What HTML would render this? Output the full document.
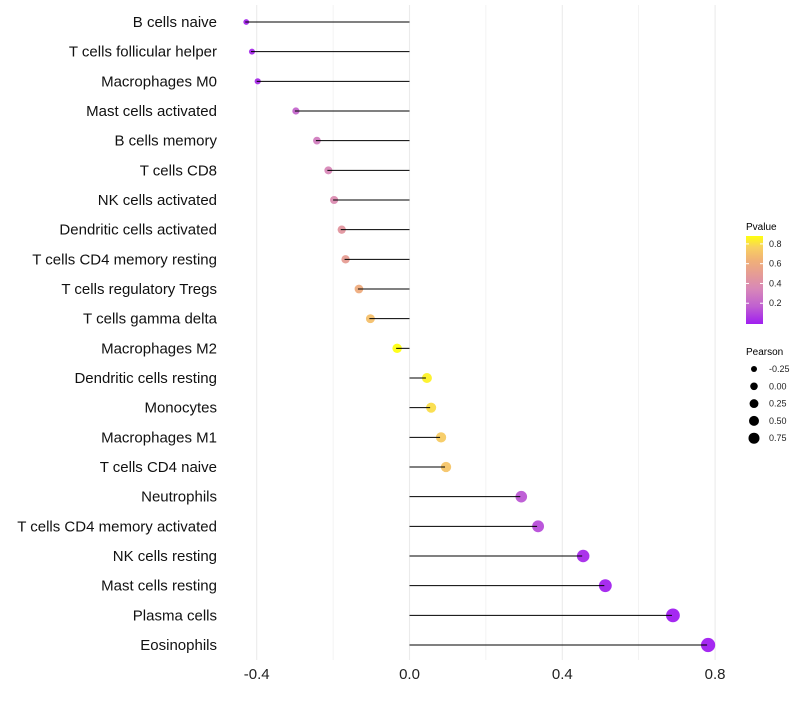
<!DOCTYPE html>
<html><head><meta charset="utf-8"><style>
body{margin:0;background:#fff;font-family:"Liberation Sans",sans-serif}
svg text{font-family:"Liberation Sans",sans-serif}
</style></head><body>
<svg id="chart" width="800" height="700">
<defs><linearGradient id="pg" x1="0" y1="1" x2="0" y2="0">
<stop offset="0" stop-color="#A01EF0"/><stop offset="0.2" stop-color="#C060D0"/><stop offset="0.4" stop-color="#D888B8"/><stop offset="0.55" stop-color="#E49A98"/><stop offset="0.72" stop-color="#F0B078"/><stop offset="0.87" stop-color="#F8D060"/><stop offset="1" stop-color="#FFFF10"/></linearGradient></defs>
<g id="grid"></g><g id="marks"></g><g id="labels"></g>
<g>
<text x="746" y="230" font-size="10">Pvalue</text>
<rect x="746" y="236" width="17" height="88" fill="url(#pg)"/>
<g id="cbticks"></g>
</g>
<g id="sizeleg">
<text x="746" y="355" font-size="10">Pearson</text>
</g>
</svg>
<script>
const categories=["B cells naive","T cells follicular helper","Macrophages M0","Mast cells activated","B cells memory","T cells CD8","NK cells activated","Dendritic cells activated","T cells CD4 memory resting","T cells regulatory  Tregs ","T cells gamma delta","Macrophages M2","Dendritic cells resting","Monocytes","Macrophages M1","T cells CD4 naive","Neutrophils","T cells CD4 memory activated","NK cells resting","Mast cells resting","Plasma cells","Eosinophils"];
const pearson=[-0.43,-0.415,-0.40,-0.30,-0.245,-0.215,-0.20,-0.18,-0.17,-0.135,-0.105,-0.035,0.043,0.054,0.08,0.093,0.29,0.334,0.452,0.51,0.687,0.779];
const pvalues=[0.02,0.03,0.04,0.2,0.3,0.35,0.38,0.45,0.5,0.6,0.7,0.9,0.85,0.8,0.75,0.72,0.15,0.12,0.03,0.01,0.001,0.0001];
const xTicks=[-0.4,0.0,0.4,0.8];
const xMinor=[-0.2,0.2,0.6];
const cbTicks=[0.2,0.4,0.6,0.8];
const sizeLegend=[-0.25,0.00,0.25,0.50,0.75];
const NS="http://www.w3.org/2000/svg";
const x=v=>409.5+v*382;
const y=i=>22+i*(623/(categories.length-1));
const r=v=>Math.sqrt(Math.max(4,13+(v+0.3)*35));
const rl=v=>Math.sqrt(9+(v+0.25)*21.25);
const stops=[[0,[160,30,240]],[0.17,[192,96,208]],[0.35,[216,136,184]],[0.48,[228,154,152]],[0.63,[240,176,120]],[0.77,[248,208,96]],[0.88,[255,255,16]]];
function col(p){p=Math.min(0.88,Math.max(0,p));for(let k=0;k<stops.length-1;k++){const [a,ca]=stops[k],[b,cb]=stops[k+1];if(p<=b){const t=(p-a)/(b-a);return`rgb(${ca.map((c,j)=>Math.round(c+(cb[j]-c)*t)).join(",")})`;}}return"rgb(255,255,16)";}
function mk(t,a,parent){const e=document.createElementNS(NS,t);for(const k in a)e.setAttribute(k,a[k]);parent.appendChild(e);return e;}
const grid=document.getElementById("grid"),marks=document.getElementById("marks"),labels=document.getElementById("labels");
xTicks.concat(xMinor).forEach(v=>{const l=mk("line",{x1:x(v),x2:x(v),y1:5,y2:660,stroke:"#ebebeb","stroke-width":xMinor.includes(v)?0.6:1.1},grid);

});
xTicks.forEach(v=>{const t=mk("text",{x:x(v),y:679,"font-size":15,"text-anchor":"middle",fill:"#222"},labels);t.textContent=v.toFixed(1);

});
categories.forEach((c,i)=>{
const t=mk("text",{x:217,y:y(i)+5,"font-size":15,"text-anchor":"end",fill:"#111"},labels);t.textContent=c;


const p=mk("circle",{cx:x(pearson[i])+1,cy:y(i),r:r(pearson[i]),fill:col(pvalues[i]),"fill-opacity":0.95},marks);


const s=mk("line",{x1:x(0),x2:x(pearson[i]),y1:y(i),y2:y(i),stroke:"#000","stroke-width":1},marks);

});
const cb=document.getElementById("cbticks");
cbTicks.forEach(v=>{const yy=323-v/0.88*87;
const l=mk("line",{x1:746,x2:749,y1:yy,y2:yy,stroke:"#fff"},cb);
const l2=mk("line",{x1:760,x2:763,y1:yy,y2:yy,stroke:"#fff"},cb);
const t=mk("text",{x:769,y:yy+3,"font-size":9,fill:"#222"},cb);t.textContent=v.toFixed(1);

});
const sl=document.getElementById("sizeleg");
sizeLegend.forEach((v,k)=>{const yy=369+k*17.3;
const c=mk("circle",{cx:754,cy:yy,r:rl(v),fill:"#000"},sl);
const t=mk("text",{x:769,y:yy+3,"font-size":9,fill:"#222"},sl);t.textContent=v.toFixed(2);

});
</script>
</body></html>
